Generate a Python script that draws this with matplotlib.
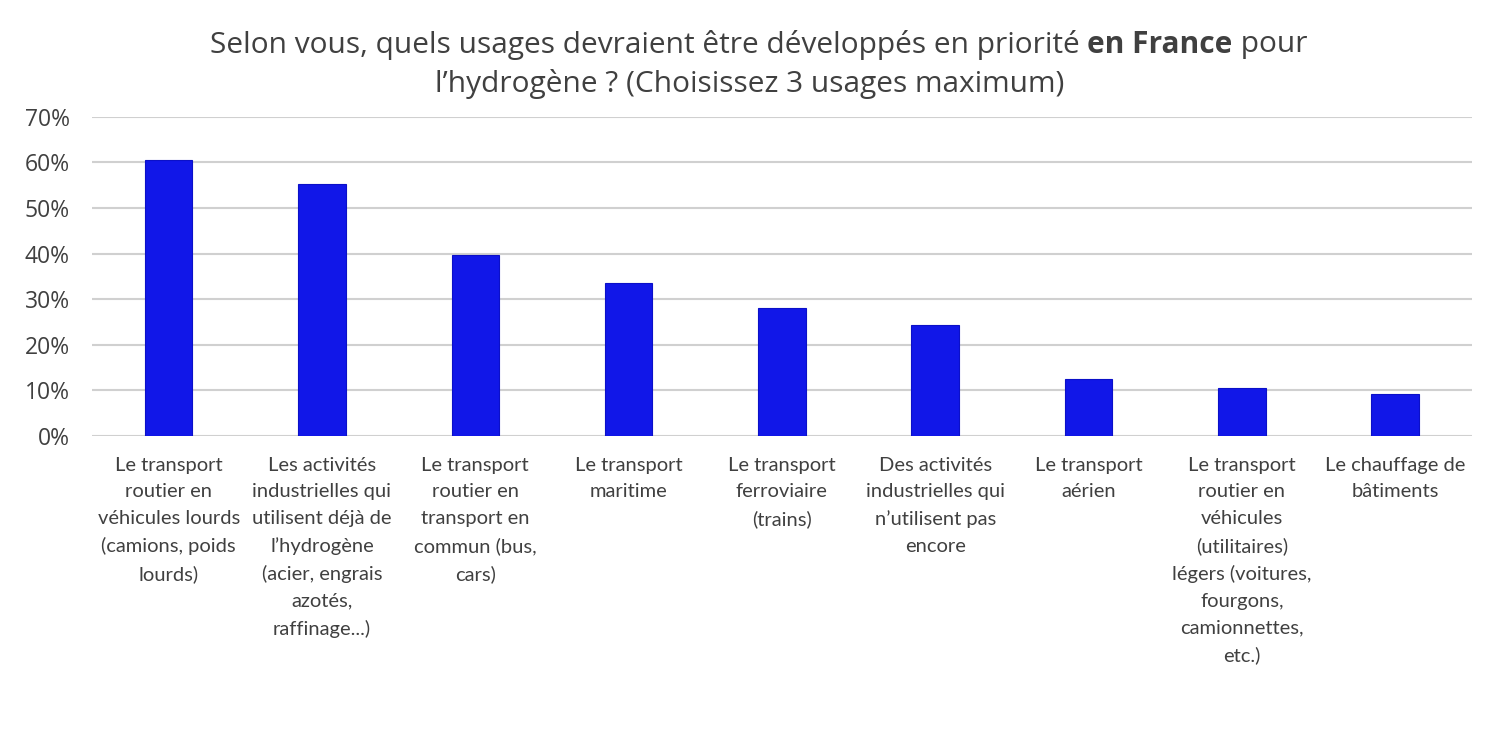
import matplotlib.pyplot as plt
import numpy as np

# Data
categories = [
    "Le transport\nroutier en\nvéhicules lourds\n(camions, poids\nlourds)",
    "Les activités\nindustrielles qui\nutilisent déjà de\nl’hydrogène\n(acier, engrais\nazotés,\nraffinage...)",
    "Le transport\nroutier en\ntransport en\ncommun (bus,\ncars)",
    "Le transport\nmaritime",
    "Le transport\nferroviaire\n(trains)",
    "Des activités\nindustrielles qui\nn’utilisent pas\nencore",
    "Le transport\naérien",
    "Le transport\nroutier en\nvéhicules\n(utilitaires)\nlégers (voitures,\nfourgons,\ncamionnettes,\netc.)",
    "Le chauffage de\nbâtiments",
]
shares = [0.605, 0.553, 0.397, 0.335, 0.280, 0.243, 0.124, 0.106, 0.091]
y_ticks = [0, 0.1, 0.2, 0.3, 0.4, 0.5, 0.6, 0.7]

text_color = "#404040"

fig = plt.figure(figsize=(15.08, 7.34), dpi=100)
ax = fig.add_axes([0.061, 0.406, 0.915, 0.435])

x = np.arange(len(categories))
ax.bar(x, shares, width=0.31, color="#1117e8", edgecolor="#0b10c8", linewidth=0.8, zorder=3)

ax.set_xlim(-0.5, len(categories) - 0.5)
ax.set_ylim(0, 0.7)
ax.set_yticks(y_ticks)
ax.set_yticklabels([f"{int(round(t * 100))}%" for t in y_ticks],
                   fontsize=16.5, color=text_color, family="Open Sans")
ax.set_xticks(x)
ax.set_xticklabels(categories, fontsize=14.5, color=text_color, family="Lato",
                   linespacing=1.68, va="top")
ax.tick_params(axis="both", length=0)
ax.tick_params(axis="x", pad=15)
ax.tick_params(axis="y", pad=16)
ax.grid(axis="y", color="#d0d0d0", linewidth=1.5, zorder=0)
for s in ax.spines.values():
    s.set_visible(False)

# Title with bold "en France"
parts = [("Selon vous, quels usages devraient être développés en priorité ", "normal"),
         ("en France", "bold"),
         (" pour", "normal")]
fig.canvas.draw()
renderer = fig.canvas.get_renderer()
texts = []
widths = []
for s, w in parts:
    t = fig.text(0, 0.939, s, fontsize=21.5, fontweight=w, color=text_color,
                 family="Open Sans", va="center", ha="left")
    bb = t.get_window_extent(renderer)
    texts.append(t)
    widths.append(bb.width)
total = sum(widths)
start = (0.503 * fig.bbox.width - total / 2)
for t, w in zip(texts, widths):
    t.set_x(start / fig.bbox.width)
    start += w
fig.text(0.497, 0.886, "l’hydrogène ? (Choisissez 3 usages maximum)", fontsize=21.5,
         color=text_color, family="Open Sans", va="center", ha="center")

fig.savefig("out.png", dpi=100)
